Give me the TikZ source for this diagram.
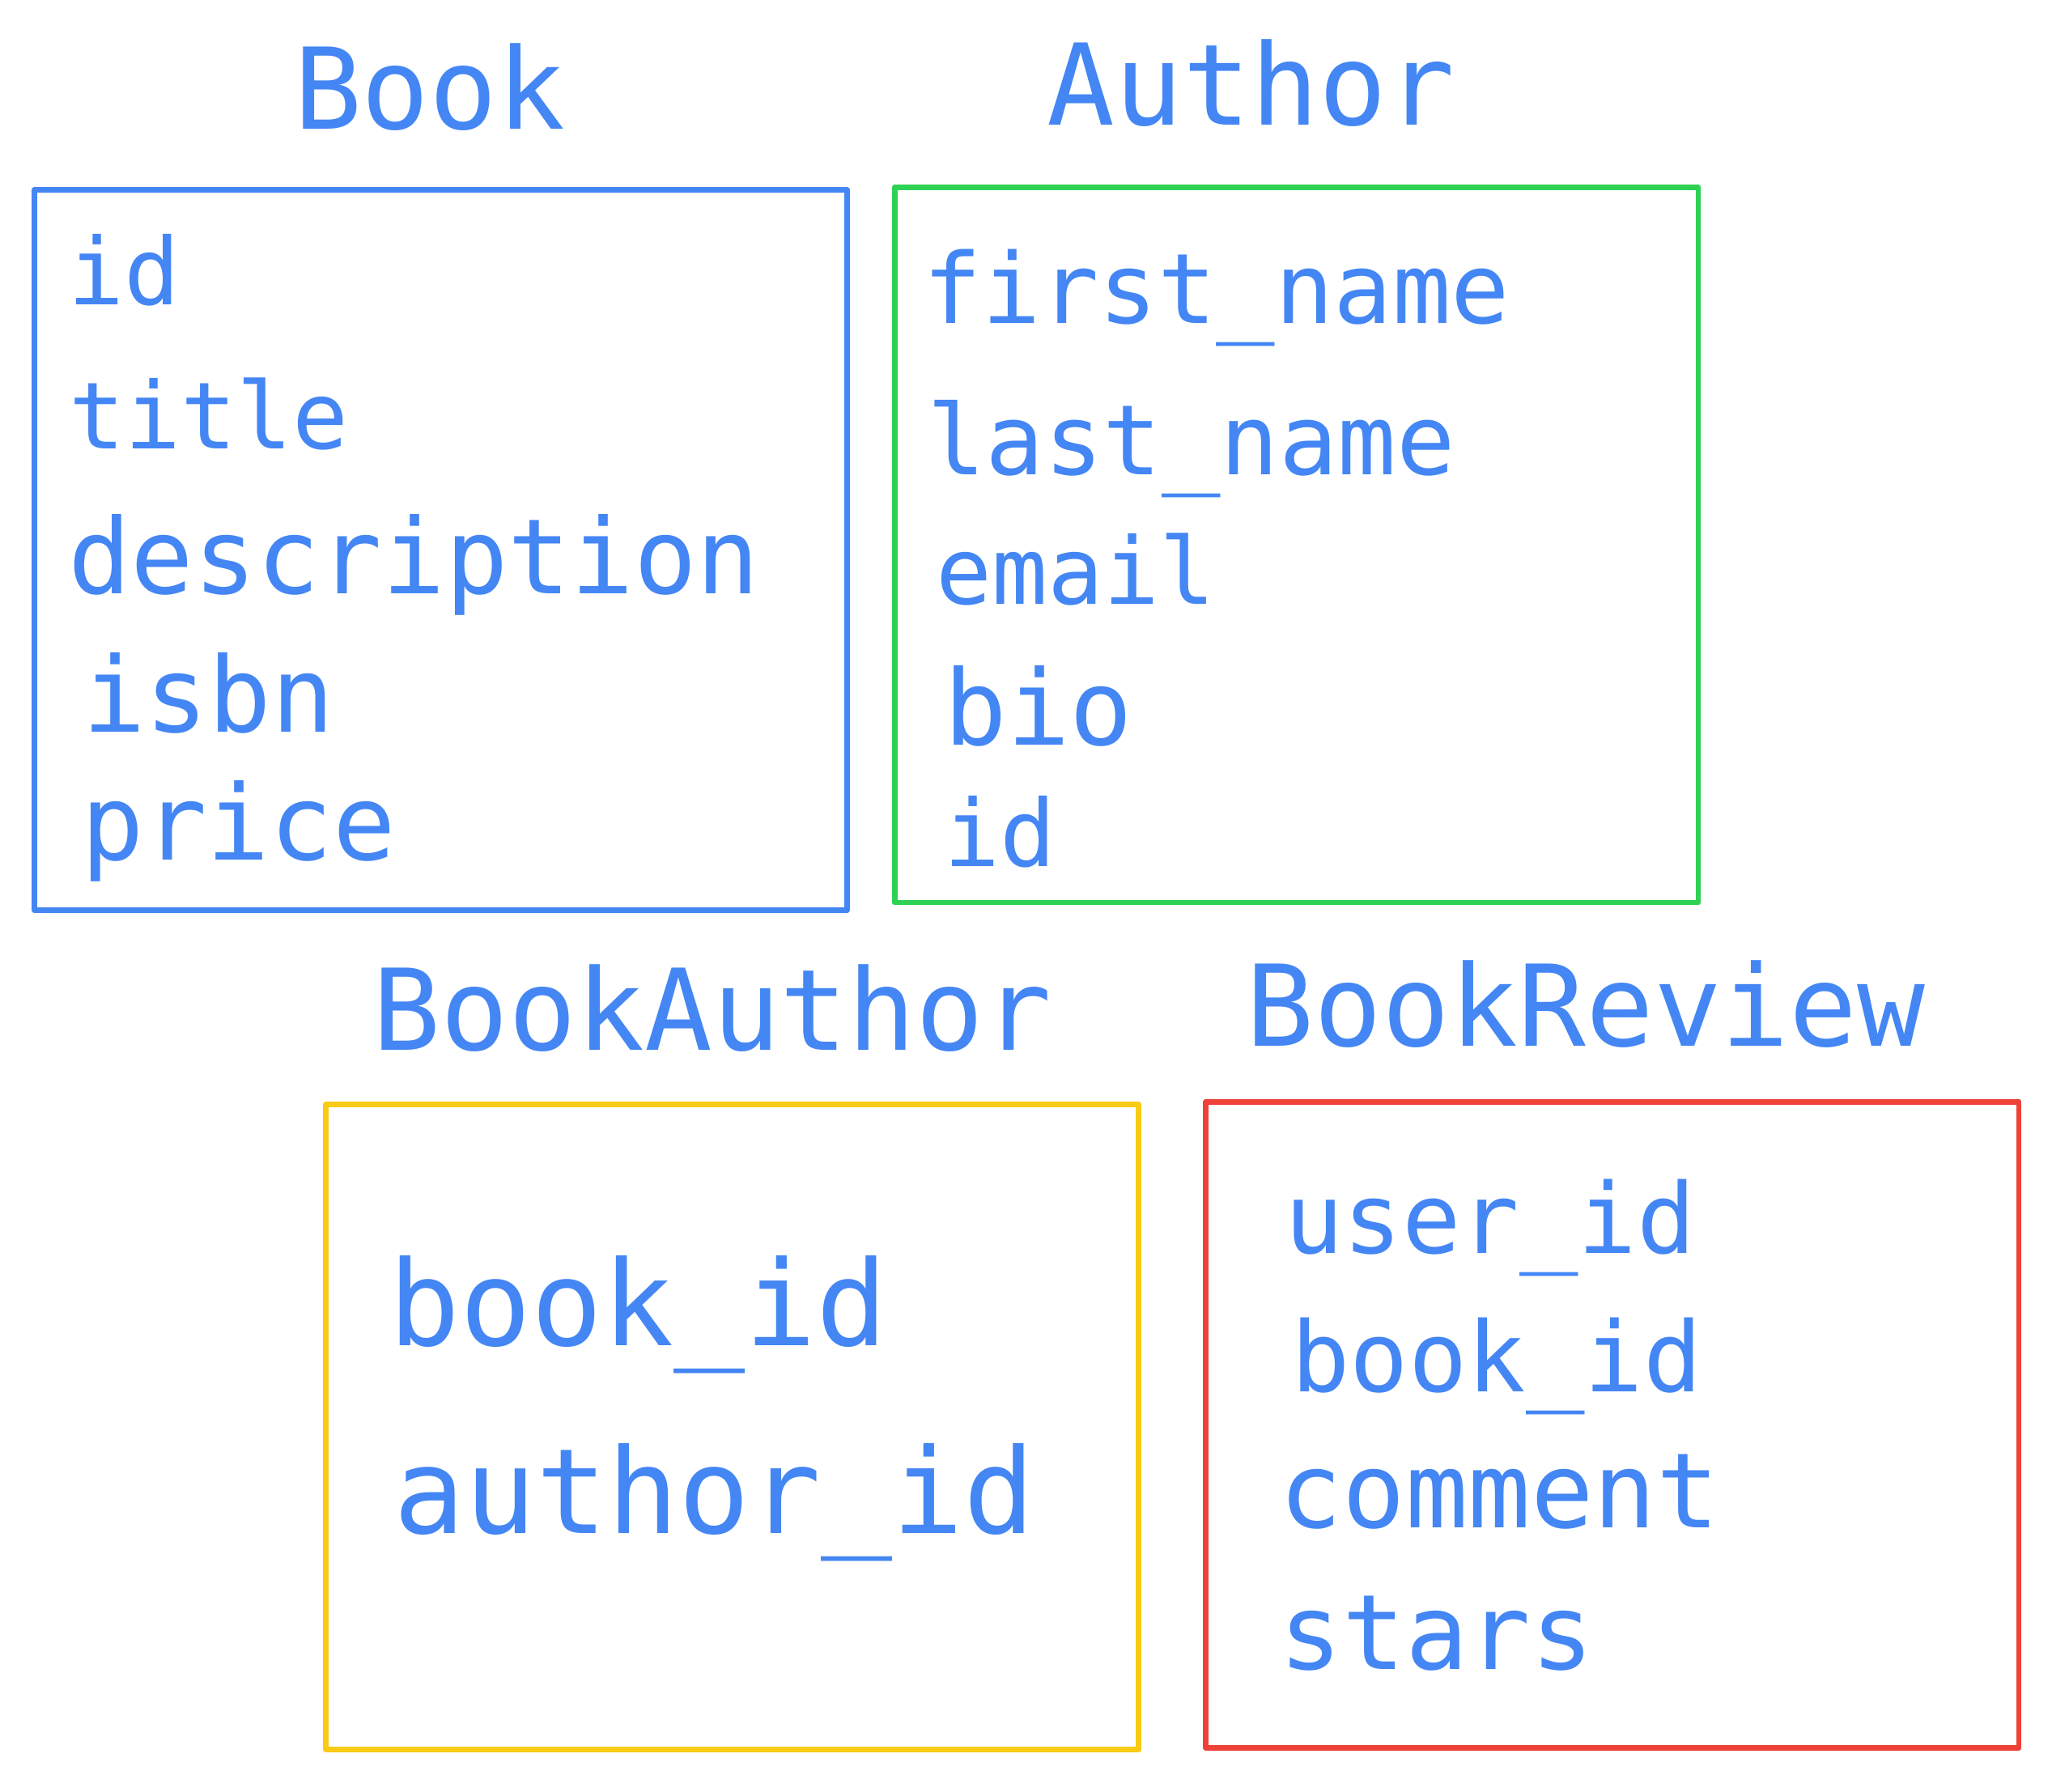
\documentclass[tikz,border=0pt]{standalone}
\usepackage{fontspec}
\newfontfamily\tablefont{DejaVu Sans Mono}
\definecolor{fieldblue}{HTML}{4486F4}
\definecolor{bookblue}{HTML}{4486F4}
\definecolor{authorgreen}{HTML}{2ED153}
\definecolor{linkyellow}{HTML}{FACB14}
\definecolor{reviewred}{HTML}{EE4137}

\begin{document}
\begin{tikzpicture}[x=0.01cm, y=-0.01cm,
    field/.style={anchor=base west, inner sep=0pt, text=fieldblue},
    tabtitle/.style={field, font=\tablefont\fontsize{24.3}{29}\selectfont},
    fsmall/.style={field, font=\tablefont\fontsize{20}{24}\selectfont},
    fmid/.style={field, font=\tablefont\fontsize{21}{25}\selectfont},
    flarge/.style={field, font=\tablefont\fontsize{22.5}{27}\selectfont},
    fhuge/.style={field, font=\tablefont\fontsize{25.5}{30}\selectfont},
    tablebox/.style={line width=1.2pt, line join=round}]
    \useasboundingbox (0,0) rectangle (1568,1358);

    % Book
    \begin{scope}
        \node[tabtitle] (booktitle) at (222, 98) {Book};
        \draw[tablebox, draw=bookblue] (26,144) rectangle (642,690);
        \node[fsmall] (bookid) at (51, 231) {id};
        \node[fsmall] (booktitlefield) at (52, 340) {title};
        \node[flarge] (bookdesc) at (51, 450) {description};
        \node[flarge] (bookisbn) at (62, 555) {isbn};
        \node[flarge] (bookprice) at (61, 652) {price};
    \end{scope}

    % Author
    \begin{scope}
        \node[tabtitle] (authortitle) at (793, 95) {Author};
        \draw[tablebox, draw=authorgreen] (678,142) rectangle (1287,684);
        \node[fmid] (authorfirst) at (699, 245) {first\_name};
        \node[fmid] (authorlast) at (702, 360) {last\_name};
        \node[fsmall] (authoremail) at (709, 458) {email};
        \node[flarge] (authorbio) at (715, 565) {bio};
        \node[fsmall] (authorid) at (715, 657) {id};
    \end{scope}

    % BookAuthor
    \begin{scope}
        \node[tabtitle] (linktitle) at (282, 796) {BookAuthor};
        \draw[tablebox, draw=linkyellow] (247,837) rectangle (863,1326);
        \node[fhuge] (linkbook) at (294, 1020) {book\_id};
        \node[fhuge] (linkauthor) at (298, 1162) {author\_id};
    \end{scope}

    % BookReview
    \begin{scope}
        \node[tabtitle] (reviewtitle) at (944, 793) {BookReview};
        \draw[tablebox, draw=reviewred] (914,835) rectangle (1530,1325);
        \node[fmid] (reviewuser) at (973, 950) {user\_id};
        \node[fmid] (reviewbook) at (978, 1055) {book\_id};
        \node[flarge] (reviewcomment) at (969, 1158) {comment};
        \node[flarge] (reviewstars) at (969, 1265) {stars};
    \end{scope}
\end{tikzpicture}
\end{document}
